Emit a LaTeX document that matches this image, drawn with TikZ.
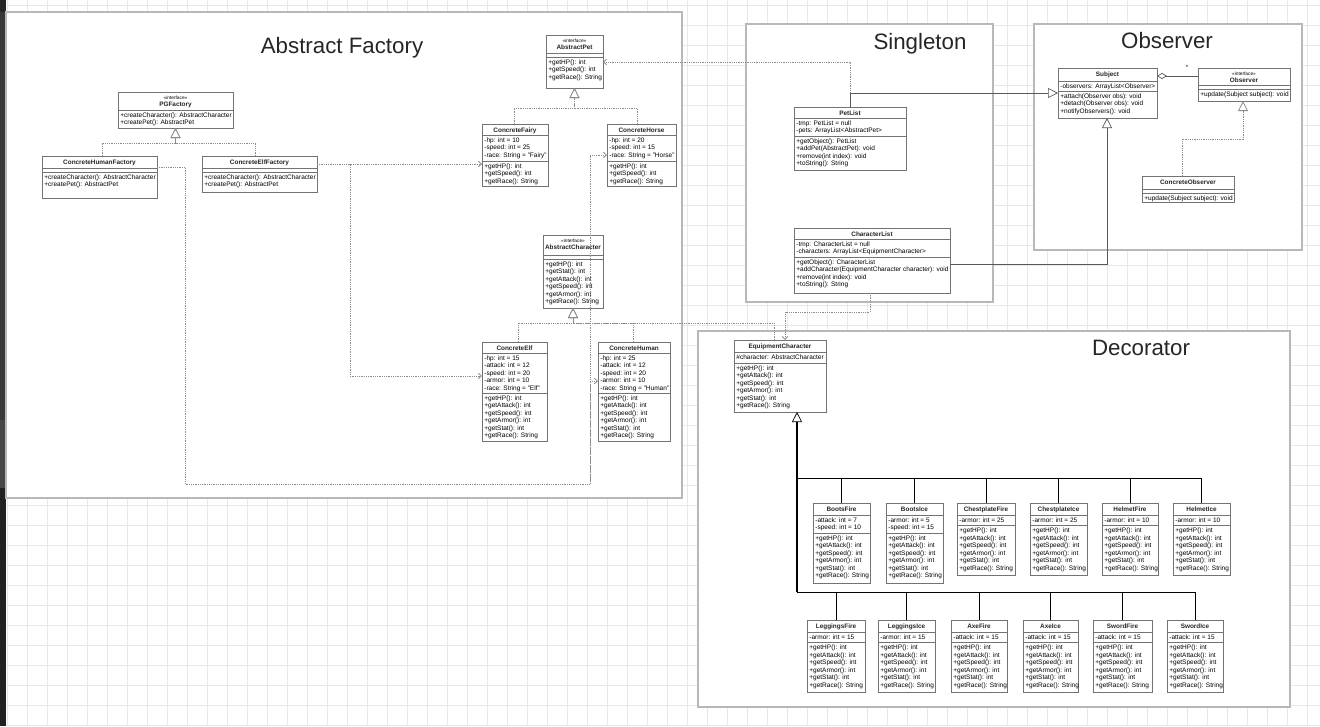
\documentclass[tikz,border=0pt]{standalone}
\usepackage{fontspec}
\setmainfont{Liberation Sans}
\usetikzlibrary{arrows.meta,shadows}
\tikzset{
 cls/.style={draw=black!55, fill=white, line width=0.6pt, inner sep=0pt, outer sep=0pt,
   drop shadow={shadow xshift=1.2pt, shadow yshift=-1.2pt, opacity=0.18}},
 clsline/.style={draw=black!55, line width=0.6pt},
 ctitle/.style={font=\fontsize{6.4}{7.5}\selectfont\bfseries, inner sep=0pt, text=black!85},
 stereo/.style={font=\fontsize{4.8}{6}\selectfont, inner sep=0pt, text=black},
 mem/.style={font=\fontsize{6.5}{7.5}\selectfont, inner sep=0pt, text=black},
 frame/.style={draw=black!28, line width=1.5pt, fill=white, inner sep=0pt, outer sep=0pt},
 ftitle/.style={font=\fontsize{22.3}{26}\selectfont, text=black!85, inner sep=0pt},
 dep/.style={draw=black!45, line width=0.8pt, dash pattern=on 0.9pt off 0.9pt,
   -{Straight Barb[length=3pt,width=5.5pt]}},
 real/.style={draw=black!45, line width=0.8pt, dash pattern=on 0.9pt off 0.9pt,
   -{Triangle[open,length=10pt,width=10pt,fill=white]}},
 gen/.style={draw=black!65, line width=0.7pt, -{Triangle[open,length=10pt,width=10pt,fill=white]}},
 agg/.style={draw=black!65, line width=0.7pt, -{Diamond[open,length=10pt,width=6pt,fill=white]}},
 dgen/.style={draw=black, line width=1.5pt, -{Triangle[open,length=10pt,width=10pt,fill=white,line width=0.7pt]}},
 dline/.style={draw=black, line width=0.9pt},
}
% class box with plain title
\newcommand\UCbox[6]{%
  \node[cls, anchor=north west, minimum width={(#4-#2)*1pt}, minimum height={(#5-#3)*1pt}] (#1) at (#2,#3) {};
  \node[ctitle, anchor=base] (#1-t) at ({(#2+#4)/2},{#3+8.5}) {#6};
}
% class box with <<interface>> title
\newcommand\UCiface[6]{%
  \node[cls, anchor=north west, minimum width={(#4-#2)*1pt}, minimum height={(#5-#3)*1pt}] (#1) at (#2,#3) {};
  \node[stereo, anchor=base] (#1-s) at ({(#2+#4)/2},{#3+7}) {«interface»};
  \node[ctitle, anchor=base] (#1-t) at ({(#2+#4)/2},{#3+14.8}) {#6};
}
\newcommand\UCline[2]{%
  \coordinate (#1-c) at (0,#2);
  \draw[clsline] (#1.west |- #1-c) -- (#1.east |- #1-c);
}
\newcommand\UCsec[3]{%
  \UCline{#1}{#2}%
  \edef\UCtmp{#3}%
  \foreach \t [count=\i from 0] in \UCtmp {%
    \pgfmathsetmacro\yy{#2+7.4+7.5*\i}
    \coordinate (#1-m) at (0,\yy);
    \path (#1.west |- #1-m) node[mem, anchor=base west, xshift=2.2pt] {\t};
  }%
}
\def\decm{+getHP(): int,+getAttack(): int,+getSpeed(): int,+getArmor(): int,+getStat(): int,+getRace(): String}
\begin{document}
\begin{tikzpicture}[x=1pt,y=-1pt]
\useasboundingbox (0,0) rectangle (1320,726);
\fill[white] (0,0) rectangle (1320,726);
\foreach \x in {7,27,...,1320} \draw[black!9, line width=0.6pt] (\x,0) -- (\x,726);
\foreach \y in {5,25,...,726} \draw[black!9, line width=0.6pt] (0,\y) -- (1320,\y);
\fill[black!85] (0,0) rectangle (6,12);
\fill[black!78] (0,12) rectangle (6,420);
\fill[black!72] (0,420) rectangle (6,488);
\fill[black!87] (0,488) rectangle (6,726);

% frames
\node[frame, anchor=north west, minimum width=676pt, minimum height=486pt] (fAF) at (6,12) {};
\node[frame, anchor=north west, minimum width=247pt, minimum height=278pt] (fSG) at (746,24) {};
\node[frame, anchor=north west, minimum width=268pt, minimum height=226pt] (fOB) at (1034,24) {};
\node[frame, anchor=north west, minimum width=592pt, minimum height=376pt] (fDC) at (698,331) {};
\node[ftitle] (tAF) at (342,48) {Abstract Factory};
\node[ftitle] (tSG) at (920,44) {Singleton};
\node[ftitle] (tOB) at (1167,41) {Observer};
\node[ftitle] (tDC) at (1141,348) {Decorator};

% ---------- Abstract Factory ----------
\UCiface{PGF}{118}{92}{233}{128}{PGFactory}
\UCsec{PGF}{110}{+createCharacter(): AbstractCharacter,+createPet(): AbstractPet}
\UCbox{CHF}{42}{156}{157}{198}{ConcreteHumanFactory}
\UCline{CHF}{168}
\UCsec{CHF}{172}{+createCharacter(): AbstractCharacter,+createPet(): AbstractPet}
\UCbox{CEF}{202}{156}{317}{192}{ConcreteElfFactory}
\UCline{CEF}{168}
\UCsec{CEF}{172}{+createCharacter(): AbstractCharacter,+createPet(): AbstractPet}

\UCiface{AP}{546}{35}{603}{88}{AbstractPet}
\UCline{AP}{53}
\UCsec{AP}{57}{+getHP(): int,+getSpeed(): int,+getRace(): String}
\UCbox{CF}{482}{124}{548}{186}{ConcreteFairy}
\UCsec{CF}{135}{-hp: int = 10,-speed: int = 25,-race: String = "Fairy"}
\UCsec{CF}{161}{+getHP(): int,+getSpeed(): int,+getRace(): String}
\UCbox{CHo}{607}{124}{676}{186}{ConcreteHorse}
\UCsec{CHo}{135}{-hp: int = 20,-speed: int = 15,-race: String = "Horse"}
\UCsec{CHo}{161}{+getHP(): int,+getSpeed(): int,+getRace(): String}

\UCiface{AC}{543}{235}{603}{308}{AbstractCharacter}
\UCline{AC}{255}
\UCsec{AC}{259}{+getHP(): int,+getStat(): int,+getAttack(): int,+getSpeed(): int,+getArmor(): int,+getRace(): String}
\UCbox{CE}{482}{342}{547}{441}{ConcreteElf}
\UCsec{CE}{353}{-hp: int = 15,-attack: int = 12,-speed: int = 20,-armor: int = 10,-race: String = "Elf"}
\UCsec{CE}{393}{\decm}
\UCbox{CHm}{598}{342}{670}{441}{ConcreteHuman}
\UCsec{CHm}{353}{-hp: int = 25,-attack: int = 12,-speed: int = 20,-armor: int = 10,-race: String = "Human"}
\UCsec{CHm}{393}{\decm}

% ---------- Singleton ----------
\UCbox{PL}{794}{107}{906}{170}{PetList}
\UCsec{PL}{118}{-tmp: PetList = null,-pets: ArrayList<AbstractPet>}
\UCsec{PL}{136}{+getObject(): PetList,+addPet(AbstractPet): void,+remove(int index): void,+toString(): String}
\UCbox{CL}{794}{228}{950}{293}{CharacterList}
\UCsec{CL}{239}{-tmp: CharacterList = null,-characters: ArrayList<EquipmentCharacter>}
\UCsec{CL}{257}{+getObject(): CharacterList,+addCharacter(EquipmentCharacter character): void,+remove(int index): void,+toString(): String}

% ---------- Observer ----------
\UCbox{Sub}{1058}{68}{1157}{118}{Subject}
\UCsec{Sub}{81}{-observers: ArrayList<Observer>}
\UCsec{Sub}{91}{+attach(Observer obs): void,+detach(Observer obs): void,+notifyObservers(): void}
\UCiface{Obs}{1198}{68}{1290}{101}{Observer}
\UCline{Obs}{85}
\UCsec{Obs}{89}{+update(Subject subject): void}
\UCbox{CO}{1142}{176}{1234}{202}{ConcreteObserver}
\UCline{CO}{189}
\UCsec{CO}{193}{+update(Subject subject): void}

% ---------- Decorator ----------
\UCbox{EC}{734}{340}{826}{412}{EquipmentCharacter}
\UCsec{EC}{352}{\#character: AbstractCharacter}
\UCsec{EC}{363}{\decm}

\UCbox{BF}{813}{503}{870}{583}{BootsFire}
\UCsec{BF}{515}{-attack: int = 7,-speed: int = 10}
\UCsec{BF}{533}{\decm}
\UCbox{BI}{886}{503}{943}{583}{BootsIce}
\UCsec{BI}{515}{-armor: int = 5,-speed: int = 15}
\UCsec{BI}{533}{\decm}
\UCbox{CPF}{957}{503}{1015}{575}{ChestplateFire}
\UCsec{CPF}{515}{-armor: int = 25}
\UCsec{CPF}{525.5}{\decm}
\UCbox{CPI}{1030}{503}{1087}{575}{ChestplateIce}
\UCsec{CPI}{515}{-armor: int = 25}
\UCsec{CPI}{525.5}{\decm}
\UCbox{HF}{1102}{503}{1158}{575}{HelmetFire}
\UCsec{HF}{515}{-armor: int = 10}
\UCsec{HF}{525.5}{\decm}
\UCbox{HI}{1173}{503}{1230}{575}{HelmetIce}
\UCsec{HI}{515}{-armor: int = 10}
\UCsec{HI}{525.5}{\decm}

\UCbox{LF}{807}{620}{865}{692}{LeggingsFire}
\UCsec{LF}{632}{-armor: int = 15}
\UCsec{LF}{642.5}{\decm}
\UCbox{LI}{878}{620}{935}{692}{LeggingsIce}
\UCsec{LI}{632}{-armor: int = 15}
\UCsec{LI}{642.5}{\decm}
\UCbox{AxF}{951}{620}{1007}{692}{AxeFire}
\UCsec{AxF}{632}{-attack: int = 15}
\UCsec{AxF}{642.5}{\decm}
\UCbox{AxI}{1023}{620}{1078}{692}{AxeIce}
\UCsec{AxI}{632}{-attack: int = 15}
\UCsec{AxI}{642.5}{\decm}
\UCbox{SF}{1093}{620}{1152}{692}{SwordFire}
\UCsec{SF}{632}{-attack: int = 15}
\UCsec{SF}{642.5}{\decm}
\UCbox{SI}{1167}{620}{1223}{692}{SwordIce}
\UCsec{SI}{632}{-attack: int = 15}
\UCsec{SI}{642.5}{\decm}

% ---------- connectors ----------
\coordinate (c1) at (102,143);
\coordinate (c2) at (255,143);
\draw[real] (c1 |- CHF.north) -- (c1) -| (PGF.south);
\draw[real] (c2 |- CEF.north) -- (c2) -| (PGF.south);
\coordinate (c3) at (514,108);
\coordinate (c4) at (637,108);
\draw[real] (c3 |- CF.north) -- (c3) -| (AP.south);
\draw[real] (c4 |- CHo.north) -- (c4) -| (AP.south);
\coordinate (c5) at (518,323);
\coordinate (c6) at (633,323);
\coordinate (c7) at (774,323);
\draw[real] (c5 |- CE.north) -- (c5) -| (AC.south);
\draw[real] (c6 |- CHm.north) -- (c6) -| (AC.south);
\draw[real] (c7 |- EC.north) -- (c7) -| (AC.south);

\coordinate (d1) at (350,164);
\coordinate (d2) at (350,376);
\draw[dep] (d1 -| CEF.east) -- (d1 -| CF.west);
\draw[dep] (d1 -| CEF.east) -- (d1) -- (d2) -- (d2 -| CE.west);
\coordinate (d3) at (185,167);
\coordinate (d4) at (185,484);
\coordinate (d5) at (590,484);
\coordinate (d6) at (590,381);
\coordinate (d7) at (590,155);
\draw[dep] (d3 -| CHF.east) -- (d3) -- (d4) -- (d5) -- (d6) -- (d6 -| CHm.west);
\draw[dep] (d5) -- (d7) -- (d7 -| CHo.west);

\coordinate (e1) at (850,62);
\coordinate (e2) at (850,93);
\draw[dep] (e1 |- PL.north) -- (e1) -- (e1 -| AP.east);
\draw[gen] (e2 |- PL.north) -- (e2) -- (e2 -| Sub.west);
\coordinate (e3) at (1107,264);
\draw[gen] (e3 -| CL.east) -- (e3) -- (e3 |- Sub.south);
\coordinate (e4) at (870,312);
\coordinate (e5) at (785,312);
\draw[dep] (e4 |- CL.south) -- (e4) -- (e5) -- (e5 |- EC.north);

\coordinate (o1) at (1182,139);
\coordinate (o2) at (1243,139);
\draw[real] (o1 |- CO.north) -- (o1) -- (o2) -- (o2 |- Obs.south);
\coordinate (o3) at (1180,76);
\draw[agg] (o3 -| Obs.west) -- (o3 -| Sub.east);
\node[font=\fontsize{6}{7}\selectfont, inner sep=0pt] (star) at (1187,67) {*};

\coordinate (b1) at (797,478);
\coordinate (b2) at (797,592);
\foreach \n in {BF,BI,CPF,CPI,HF,HI} \draw[dline] (\n.north) |- (b1);
\foreach \n in {LF,LI,AxF,AxI,SF,SI} \draw[dline] (\n.north) |- (b2);
\draw[dgen] (b2) -- (b2 |- EC.south);
\end{tikzpicture}
\end{document}
